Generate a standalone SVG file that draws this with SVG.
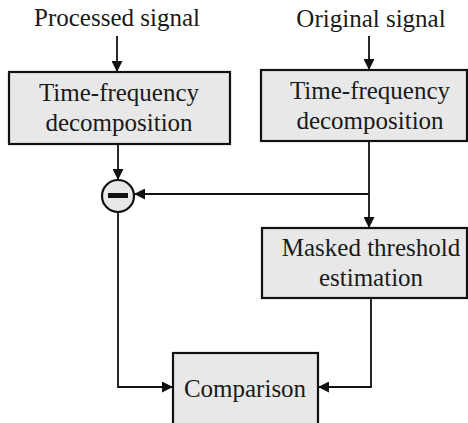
<svg xmlns="http://www.w3.org/2000/svg" width="468" height="423" viewBox="0 0 468 423">
<style>
.box{fill:#e8e8e8;stroke:#111;stroke-width:2.2}
.t{font-family:"Liberation Serif","Times New Roman",serif;font-size:25px;fill:#1a1a1a;text-anchor:middle}
.c{fill:none;stroke:#111;stroke-width:1.8}
</style>
<defs>
<marker id="ah" viewBox="0 0 10 10" refX="10" refY="5" markerWidth="11" markerHeight="11" markerUnits="userSpaceOnUse" orient="auto">
<path d="M0,0 L10,5 L0,10 z" fill="#111"/>
</marker>
</defs>
<rect width="468" height="423" fill="#fff"/>
<g id="label-processed"><text class="t" x="117" y="26">Processed signal</text></g>
<g id="label-original"><text class="t" x="371" y="27">Original signal</text></g>
<g id="tf-left">
<rect class="box" x="9" y="72" width="221" height="72"/>
<text class="t" x="119" y="101">Time-frequency</text>
<text class="t" x="119" y="131">decomposition</text>
</g>
<g id="tf-right">
<rect class="box" x="261" y="70" width="206" height="71"/>
<text class="t" x="370" y="99">Time-frequency</text>
<text class="t" x="370" y="129">decomposition</text>
</g>
<g id="minus">
<circle cx="118" cy="196" r="16" fill="#e8e8e8" stroke="#111" stroke-width="2.2"/>
<rect x="108" y="193" width="20" height="5" fill="#111"/>
</g>
<g id="masked">
<rect class="box" x="262" y="228" width="205" height="70"/>
<text class="t" x="371" y="256">Masked threshold</text>
<text class="t" x="371" y="286">estimation</text>
</g>
<g id="comparison">
<rect class="box" x="173" y="353" width="145" height="75"/>
<text class="t" x="245" y="397">Comparison</text>
</g>
<g id="connectors">
<path class="c" d="M117,36 V72" marker-end="url(#ah)"/>
<path class="c" d="M369,36 V70" marker-end="url(#ah)"/>
<path class="c" d="M118,144 V180" marker-end="url(#ah)"/>
<path class="c" d="M369,141 V228" marker-end="url(#ah)"/>
<path class="c" d="M369,194 H134" marker-end="url(#ah)"/>
<path class="c" d="M118,212 V387 H173" marker-end="url(#ah)"/>
<path class="c" d="M371,298 V387 H318" marker-end="url(#ah)"/>
</g>
</svg>
